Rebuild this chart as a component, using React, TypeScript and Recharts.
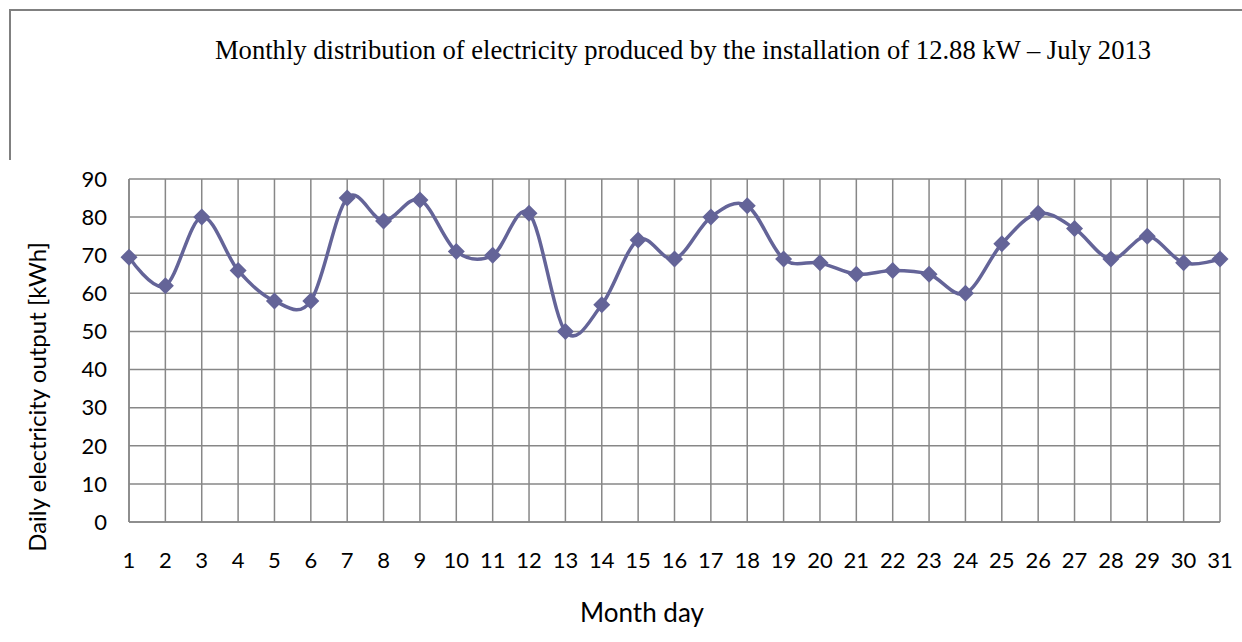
import React from "react";
import { CartesianGrid, Line, LineChart, XAxis, YAxis } from "recharts";

const days = [
  "1", "2", "3", "4", "5", "6", "7", "8", "9", "10", "11", "12", "13", "14", "15", "16",
  "17", "18", "19", "20", "21", "22", "23", "24", "25", "26", "27", "28", "29", "30", "31",
];

const output = [
  69.5, 62, 80, 66, 58, 58, 85, 79, 84.5, 71, 70, 81, 50, 57, 74, 69,
  80, 83, 69, 68, 65, 66, 65, 60, 73, 81, 77, 69, 75, 68, 69,
];

const yTicks = [0, 10, 20, 30, 40, 50, 60, 70, 80, 90];

const title = "Monthly distribution of electricity produced by the installation of 12.88 kW \u2013 July 2013";
const yTitle = "Daily electricity output [kWh]";
const xTitle = "Month day";

const data = days.map((day, i) => ({ day, kwh: output[i] }));

const SERIES = "#646498";
const GRID = "#878787";
const FONT = "Lato, 'Noto Sans', sans-serif";

// Excel style smoothed line (Catmull-Rom through the points)
class SmoothCurve {
  _context: any;
  _line: number = NaN;
  _point = 0;
  _x0 = NaN; _x1 = NaN; _x2 = NaN;
  _y0 = NaN; _y1 = NaN; _y2 = NaN;
  constructor(context: any) {
    this._context = context;
  }
  areaStart() { this._line = 0; }
  areaEnd() { this._line = NaN; }
  lineStart() {
    this._x0 = this._x1 = this._x2 = NaN;
    this._y0 = this._y1 = this._y2 = NaN;
    this._point = 0;
  }
  lineEnd() {
    if (this._point === 2) this._context.lineTo(this._x2, this._y2);
    else if (this._point === 3) this.seg(this._x1, this._y1);
    this._line = 1 - this._line;
  }
  seg(x: number, y: number) {
    const k = 1 / 6;
    this._context.bezierCurveTo(
      this._x1 + k * (this._x2 - this._x0),
      this._y1 + k * (this._y2 - this._y0),
      this._x2 + k * (this._x1 - x),
      this._y2 + k * (this._y1 - y),
      this._x2,
      this._y2
    );
  }
  point(x: number, y: number) {
    x = +x; y = +y;
    if (this._point === 0) {
      this._point = 1;
      if (this._line) this._context.lineTo(x, y);
      else this._context.moveTo(x, y);
    } else if (this._point === 1) {
      this._point = 2;
      this._x1 = x; this._y1 = y;
    } else {
      if (this._point === 2) this._point = 3;
      this.seg(x, y);
    }
    this._x0 = this._x1; this._x1 = this._x2; this._x2 = x;
    this._y0 = this._y1; this._y1 = this._y2; this._y2 = y;
  }
}

const excelSmooth: any = (context: any) => new SmoothCurve(context);

const Diamond = (props: any) => {
  const { cx, cy, index } = props;
  if (cx == null || cy == null) return <g key={`d-${index}`} />;
  const s = 8.5;
  return (
    <path
      key={`d-${index}`}
      d={`M${cx},${cy - s}L${cx + s},${cy}L${cx},${cy + s}L${cx - s},${cy}Z`}
      fill={SERIES}
    />
  );
};

export default function App() {
  return (
    <div style={{ position: "absolute", left: 0, top: 0, width: 1242, height: 642, background: "#fff" }}>
      <LineChart
        width={1242}
        height={642}
        data={data}
        margin={{ top: 179, right: 22, bottom: 0, left: 0 }}
      >
        <CartesianGrid stroke={GRID} strokeWidth={1.5} />
        <XAxis
          dataKey="day"
          interval={0}
          height={120}
          tickSize={0}
          tickMargin={30}
          axisLine={{ stroke: GRID, strokeWidth: 1.5 }}
          tickLine={false}
          tick={{ fill: "#000", fontSize: 22, fontFamily: FONT }}
        />
        <YAxis
          type="number"
          domain={[0, 90]}
          ticks={yTicks}
          width={129}
          tickSize={0}
          tickMargin={22}
          axisLine={{ stroke: GRID, strokeWidth: 1.5 }}
          tickLine={false}
          tick={{ fill: "#000", fontSize: 22, fontFamily: FONT }}
        />
        <Line
          dataKey="kwh"
          type={excelSmooth}
          stroke={SERIES}
          strokeWidth={3.5}
          dot={Diamond}
          activeDot={false}
          isAnimationActive={false}
        />
      </LineChart>
      <svg
        width={1242}
        height={642}
        style={{ position: "absolute", left: 0, top: 0, pointerEvents: "none" }}
      >
        <line x1={9} y1={10} x2={1242} y2={10} stroke="#808080" strokeWidth={2} />
        <line x1={10} y1={9} x2={10} y2={160} stroke="#808080" strokeWidth={2} />
        <text
          x={683}
          y={59}
          textAnchor="middle"
          fontFamily="'Liberation Serif', 'Times New Roman', serif"
          fontSize={26.6}
          fill="#000"
        >
          {title}
        </text>
        <text
          x={0}
          y={0}
          transform="translate(46,397) rotate(-90)"
          textAnchor="middle"
          fontFamily={FONT}
          fontSize={24}
          fill="#000"
        >
          {yTitle}
        </text>
        <text x={642} y={622} textAnchor="middle" fontFamily={FONT} fontSize={26} fill="#000">
          {xTitle}
        </text>
      </svg>
    </div>
  );
}
